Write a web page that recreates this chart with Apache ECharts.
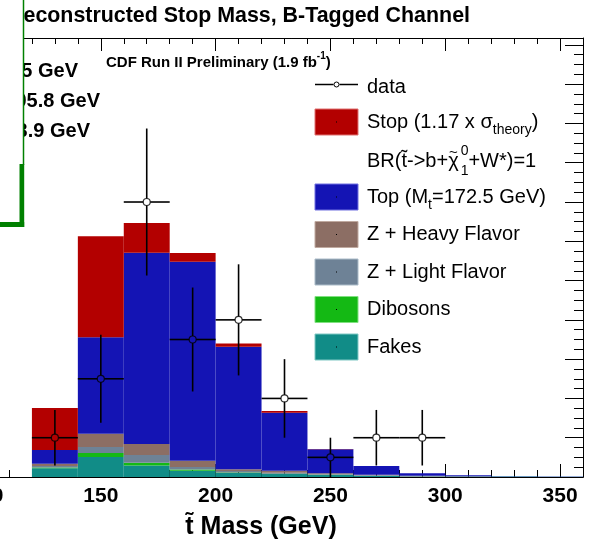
<!DOCTYPE html>
<html><head><meta charset="utf-8">
<script src="https://cdn.jsdelivr.net/npm/echarts@6/dist/echarts.min.js"></script>
<style>html,body{margin:0;padding:0;background:#fff}#c{width:597px;height:543px}</style>
</head><body><div id="c"></div>
<script>
// ---------- data ----------
const bins = ['100-120','120-140','140-160','160-180','180-200','200-220','220-240','240-260','260-280','280-300','300-320','320-340','340-360'];
const fakes    = [0, 0.44, 1.02, 0.58, 0.32, 0.20, 0.15, 0.10, 0.06, 0.03, 0.02, 0.02, 0.01];
const dibosons = [0, 0.05, 0.20, 0.15, 0.06, 0.03, 0.02, 0.01, 0.01, 0,    0,    0,    0];
const zLight   = [0, 0.07, 0.31, 0.39, 0.13, 0.07, 0.05, 0.03, 0.02, 0.01, 0.01, 0,    0];
const zHeavy   = [0, 0.12, 0.67, 0.56, 0.32, 0.10, 0.10, 0.05, 0.03, 0.02, 0.01, 0,    0];
const topPair  = [0, 0.69, 4.92, 9.74,10.13, 6.23, 2.95, 1.22, 0.44, 0.13, 0.05, 0.02, 0.01];
const stopSig  = [0, 2.14, 5.14, 1.51, 0.44, 0.17, 0.09, 0.01, 0,    0,    0,    0,    0];
const dataMass = [130, 150, 170, 190, 210, 230, 250, 270, 290];
const dataCount= [2, 5, 14, 7, 8, 4, 1, 2, 2];
const binHalfWidth = 10;
const xMin = 100, xMax = 360, xMajor = 50, xMinor = 10;
const yMin = 0, yMax = 22.35, yMajor = 2, yMinor = 0.5;

// ---------- style ----------
const FNAME = '"Liberation Sans", Arial, Helvetica, sans-serif';
const COL = {stop:'#b30000', top:'#1414b4', zhf:'#8c6e64', zlf:'#6e8296', dib:'#14b914', fake:'#118c87'};
const mctx = document.createElement('canvas').getContext('2d');
function tw(t, size, weight){ mctx.font = (weight||'normal') + ' ' + size + 'px ' + FNAME; return mctx.measureText(t).width; }

const chart = echarts.init(document.getElementById('c'), null, {renderer:'canvas'});
const gridRect = {left:-14, right:14, top:38, bottom:66};

function bar(name, data, color){
  return {type:'bar', name, data, stack:'mc', xAxisIndex:0, yAxisIndex:0, barCategoryGap:'0%',
    itemStyle:{color}, silent:true, z:2};
}
const blackLine = {color:'#000', width:1};
const valX = (pos, interval, len, labels) => ({
  type:'value', min:xMin, max:xMax, interval, position:pos,
  axisLine:{show:true, onZero:false, lineStyle:blackLine},
  axisTick:{show:true, inside:true, length:len, lineStyle:blackLine},
  axisLabel: labels ? {show:true, fontFamily:FNAME, fontWeight:'bold', fontSize:21, color:'#000', margin:9, showMaxLabel:false, showMinLabel:true, hideOverlap:false} : {show:false},
  splitLine:{show:false}
});
const valY = (interval, len, line) => ({
  type:'value', min:yMin, max:yMax, interval, position:'right',
  axisLine:{show:line, onZero:false, lineStyle:blackLine},
  axisTick:{show:true, inside:true, length:len, lineStyle:blackLine},
  axisLabel:{show:false}, splitLine:{show:false}
});

// legend rows
const rowY = [84.5, 122, 159.5, 197, 234.5, 272, 309.5, 347];
const boxX = 315, boxW = 43, boxH = 26, textX = 367;
const g = [];
function legBox(y, color, stroke){
  g.push({type:'rect', shape:{x:boxX, y:y-boxH/2, width:boxW, height:boxH}, style:{fill:color, stroke:stroke, lineWidth:1}, z:20});
  g.push({type:'rect', shape:{x:boxX+boxW/2-0.5, y:y-0.5, width:1, height:1}, style:{fill:'#000'}, z:21});
}
function legText(y, txt, rich){
  g.push({type:'text', x:textX, y:y, style:{text:txt, rich:rich, font:'20px '+FNAME, fill:'#000', verticalAlign:'middle', align:'left'}, z:20});
}
// data entry
g.push({type:'line', shape:{x1:boxX, y1:rowY[0], x2:boxX+boxW/2-3, y2:rowY[0]}, style:{stroke:'#000', lineWidth:1.5}, z:20});
g.push({type:'line', shape:{x1:boxX+boxW/2+3, y1:rowY[0], x2:boxX+boxW, y2:rowY[0]}, style:{stroke:'#000', lineWidth:1.5}, z:20});
g.push({type:'circle', shape:{cx:boxX+boxW/2, cy:rowY[0], r:2.5}, style:{fill:'#fff', stroke:'#000', lineWidth:1}, z:20});
legText(rowY[0]+3, 'data');
legBox(rowY[1], COL.stop, '#e07070');
const richBase = {
  n:{fontSize:20, fontFamily:FNAME, lineHeight:30, verticalAlign:'middle', fill:'#000'},
  s:{fontSize:14, fontFamily:FNAME, lineHeight:14, verticalAlign:'bottom', fill:'#000'}
};
legText(rowY[1], '{n|Stop (1.17 x σ}{s|theory}{n|)}', richBase);
// BR line with stacked sup/sub
(function(){
  const y = rowY[2] + 2;
  const p1 = 'BR(t\u0303->b+\u03c7';
  const w1 = tw(p1, 20);
  const wc = tw('\u03c7', 20);
  g.push({type:'text', x:textX, y:y, style:{text:p1, font:'20px '+FNAME, fill:'#000', verticalAlign:'middle'}, z:20});
  g.push({type:'text', x:textX+w1-wc/2, y:y-8.5, style:{text:'~', font:'15px '+FNAME, fill:'#000', verticalAlign:'middle', align:'center'}, z:20});
  g.push({type:'text', x:textX+w1+2, y:y-10, style:{text:'0', font:'14px '+FNAME, fill:'#000', verticalAlign:'middle'}, z:20});
  g.push({type:'text', x:textX+w1+2, y:y+10, style:{text:'1', font:'14px '+FNAME, fill:'#000', verticalAlign:'middle'}, z:20});
  g.push({type:'text', x:textX+w1+2+tw('0',14), y:y, style:{text:'+W*)=1', font:'20px '+FNAME, fill:'#000', verticalAlign:'middle'}, z:20});
})();
legBox(rowY[3], COL.top, '#7070e0');
legText(rowY[3], '{n|Top (M}{s|t}{n|=172.5 GeV)}', richBase);
legBox(rowY[4], COL.zhf, '#c0aaa0');
legText(rowY[4], 'Z + Heavy Flavor');
legBox(rowY[5], COL.zlf, '#aabbc8');
legText(rowY[5], 'Z + Light Flavor');
legBox(rowY[6], COL.dib, '#80e080');
legText(rowY[6], 'Dibosons');
legBox(rowY[7], COL.fake, '#80c8c4');
legText(rowY[7], 'Fakes');

// CDF label
g.push({type:'text', x:106, y:62.5, style:{text:'{b|CDF Run II Preliminary (1.9 fb}{p|-1}{b|)}',
  rich:{b:{fontSize:15, fontWeight:'bold', fontFamily:FNAME, lineHeight:22, verticalAlign:'middle', fill:'#000'},
        p:{fontSize:10, fontWeight:'bold', fontFamily:FNAME, lineHeight:10, verticalAlign:'top', fill:'#000'}},
  verticalAlign:'middle'}, z:20});

// title (first letter hidden under the box)
const titleTxt = 'Reconstructed Stop Mass, B-Tagged Channel';
g.push({type:'text', x:23.5 - tw('R',21.4,'bold'), y:16.5, style:{text:titleTxt, font:'bold 21.4px '+FNAME, fill:'#000', verticalAlign:'middle'}, z:50});
// mass texts (left parts hidden under the box)
[['5 GeV',78,71],['05.8 GeV',100,101],['3.9 GeV',90,131]].forEach(function(a){
  g.push({type:'text', x:a[1], y:a[2], style:{text:a[0], font:'bold 20px '+FNAME, fill:'#000', verticalAlign:'middle', align:'right'}, z:50});
});
// pave box with shadow
g.push({type:'rect', shape:{x:-5, y:-5, width:28, height:229}, style:{fill:'#fff'}, z:60});
g.push({type:'line', shape:{x1:23.5, y1:0, x2:23.5, y2:165}, style:{stroke:'#008000', lineWidth:1.5}, z:61});
g.push({type:'rect', shape:{x:19.5, y:164, width:4.7, height:63}, style:{fill:'#008000'}, z:61});
g.push({type:'rect', shape:{x:0, y:222, width:24.2, height:5}, style:{fill:'#008000'}, z:61});

// axis title
g.push({type:'text', x:261, y:527, style:{text:'t\u0303 Mass (GeV)', font:'bold 25px '+FNAME, fill:'#000', verticalAlign:'middle', align:'center'}, z:20});

const errData = dataMass.map((m,i)=>[m, dataCount[i]]);

chart.setOption({
  animation:false,
  backgroundColor:'#fff',
  grid:Object.assign({containLabel:false, outerBoundsMode:'none'}, gridRect),
  xAxis:[
    {type:'category', data:bins, show:false, boundaryGap:true, position:'bottom'},
    valX('bottom', xMajor, 13, true),
    valX('bottom', xMinor, 7, false),
    valX('top', xMajor, 13, false),
    valX('top', xMinor, 6, false)
  ],
  yAxis:[
    valY(yMajor, 18, true),
    valY(yMinor, 9, false)
  ],
  series:[
    bar('Fakes', fakes, COL.fake),
    bar('Dibosons', dibosons, COL.dib),
    bar('Z + Light Flavor', zLight, COL.zlf),
    bar('Z + Heavy Flavor', zHeavy, COL.zhf),
    bar('Top', topPair, COL.top),
    bar('Stop', stopSig, COL.stop),
    {type:'custom', name:'data errors', xAxisIndex:1, yAxisIndex:0, data:errData, z:5, silent:true,
     renderItem:function(params, api){
       const x = api.value(0), y = api.value(1), e = Math.sqrt(y);
       const c = api.coord([x,y]);
       const l = api.coord([x-binHalfWidth,y]), r = api.coord([x+binHalfWidth,y]);
       const t = api.coord([x,y+e]), b = api.coord([x,y-e]);
       const gap = 3.5, st = {stroke:'#000', lineWidth:1.6};
       return {type:'group', children:[
         {type:'line', shape:{x1:l[0], y1:c[1], x2:c[0]-gap, y2:c[1]}, style:st},
         {type:'line', shape:{x1:c[0]+gap, y1:c[1], x2:r[0], y2:c[1]}, style:st},
         {type:'line', shape:{x1:c[0], y1:t[1], x2:c[0], y2:c[1]-gap}, style:st},
         {type:'line', shape:{x1:c[0], y1:c[1]+gap, x2:c[0], y2:b[1]}, style:st}
       ]};
     }},
    {type:'scatter', name:'data', xAxisIndex:1, yAxisIndex:0, data:errData, symbol:'circle', symbolSize:7, z:6, silent:true,
     itemStyle:{color:'rgba(0,0,0,0)', borderColor:'#000', borderWidth:1.2}}
  ],
  graphic:{elements:g}
});
</script></body></html>
